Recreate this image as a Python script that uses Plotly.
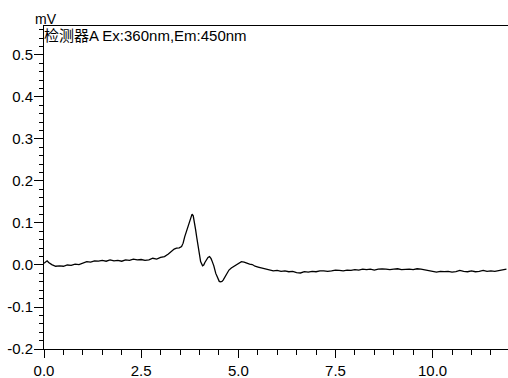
import plotly.graph_objects as go

time_min = [0.00, 0.04, 0.08, 0.12, 0.2, 0.3, 0.4, 0.5, 0.6, 0.7, 0.8, 0.9, 1.0, 1.1, 1.2, 1.3, 1.4, 1.5,
            1.6, 1.7, 1.8, 1.9, 2.0, 2.1, 2.2, 2.3, 2.4, 2.5, 2.6, 2.7, 2.8, 2.9, 3.0, 3.1, 3.2, 3.28,
            3.35, 3.41, 3.48, 3.54, 3.58, 3.62, 3.67, 3.71, 3.76, 3.81, 3.84, 3.87, 3.90, 3.93, 3.96,
            3.99, 4.03, 4.08, 4.11, 4.14, 4.18, 4.22, 4.26, 4.30, 4.33, 4.37, 4.42, 4.47, 4.51, 4.54,
            4.58, 4.61, 4.66, 4.71, 4.76, 4.82, 4.88, 4.95, 5.02, 5.08, 5.15, 5.22, 5.29, 5.36, 5.43,
            5.51, 5.6, 5.7, 5.8, 5.9, 6.0, 6.1, 6.2, 6.3, 6.4, 6.5, 6.6, 6.7, 6.8, 6.9, 7.0, 7.1, 7.2,
            7.3, 7.4, 7.5, 7.6, 7.7, 7.8, 7.9, 8.0, 8.1, 8.2, 8.3, 8.4, 8.5, 8.6, 8.7, 8.8, 8.9, 9.0,
            9.1, 9.2, 9.3, 9.4, 9.5, 9.6, 9.7, 9.8, 9.9, 10.0, 10.1, 10.2, 10.3, 10.4, 10.5, 10.6,
            10.7, 10.8, 10.9, 11.0, 11.1, 11.2, 11.3, 11.4, 11.5, 11.6, 11.7, 11.8, 11.9]

signal_mv = [0.004, 0.006, 0.010, 0.006, 0.001, -0.003, -0.002, -0.003, 0.000, -0.001, 0.002, 0.001,
             0.004, 0.008, 0.007, 0.010, 0.009, 0.011, 0.009, 0.012, 0.010, 0.011, 0.009, 0.012, 0.011,
             0.014, 0.012, 0.013, 0.011, 0.012, 0.016, 0.014, 0.018, 0.020, 0.026, 0.032, 0.038, 0.040,
             0.041, 0.044, 0.052, 0.067, 0.082, 0.095, 0.112, 0.121, 0.117, 0.104, 0.085, 0.066, 0.045,
             0.028, 0.008, -0.002, 0.000, 0.006, 0.013, 0.018, 0.020, 0.015, 0.008, -0.002, -0.020,
             -0.032, -0.039, -0.040, -0.039, -0.036, -0.028, -0.020, -0.012, -0.007, -0.004, 0.000,
             0.005, 0.008, 0.007, 0.004, 0.002, 0.001, -0.003, -0.005, -0.007, -0.010, -0.012, -0.014,
             -0.013, -0.015, -0.014, -0.016, -0.015, -0.018, -0.019, -0.016, -0.017, -0.015, -0.016,
             -0.014, -0.014, -0.015, -0.014, -0.012, -0.013, -0.014, -0.012, -0.013, -0.011, -0.012,
             -0.010, -0.011, -0.010, -0.012, -0.010, -0.009, -0.010, -0.011, -0.010, -0.009, -0.011,
             -0.010, -0.010, -0.011, -0.009, -0.010, -0.012, -0.014, -0.015, -0.017, -0.015, -0.016,
             -0.015, -0.017, -0.016, -0.013, -0.015, -0.016, -0.014, -0.016, -0.015, -0.013, -0.015,
             -0.014, -0.015, -0.013, -0.012, -0.010]

x_tick_vals = [0.0, 2.5, 5.0, 7.5, 10.0]
x_tick_text = ["0.0", "2.5", "5.0", "7.5", "10.0"]
y_tick_vals = [-0.2, -0.1, 0.0, 0.1, 0.2, 0.3, 0.4, 0.5]
y_tick_text = ["-0.2", "-0.1", "0.0", "0.1", "0.2", "0.3", "0.4", "0.5"]

FONT = "Liberation Sans, Arial, Noto Sans CJK SC, sans-serif"

fig = go.Figure()
fig.add_trace(go.Scatter(x=time_min, y=signal_mv, mode="lines",
                         line=dict(color="black", width=1.3), showlegend=False))

fig.update_layout(
    width=508, height=378,
    margin=dict(l=44, r=0, t=26, b=29),
    paper_bgcolor="white", plot_bgcolor="white",
    font=dict(family=FONT, size=15, color="black"),
    xaxis=dict(range=[0, 11.94], showgrid=False, zeroline=False,
               showline=True, linecolor="black", linewidth=1, mirror=True,
               ticks="outside", ticklen=8, tickcolor="black", tickwidth=1,
               tickvals=x_tick_vals, ticktext=x_tick_text,
               minor=dict(dtick=0.5, ticks="outside", ticklen=5, tickcolor="black", showgrid=False)),
    yaxis=dict(range=[-0.2, 0.569], showgrid=False, zeroline=False,
               showline=True, linecolor="black", linewidth=1,
               ticks="outside", ticklen=9, tickcolor="black", tickwidth=1,
               tickvals=y_tick_vals, ticktext=y_tick_text, ticklabelstandoff=-2,
               minor=dict(dtick=0.02, ticks="outside", ticklen=4, tickcolor="black", showgrid=False)),
    annotations=[
        dict(text="mV", xref="paper", yref="paper", x=0, y=1, xanchor="center", yanchor="bottom",
             showarrow=False, font=dict(size=14), xshift=2, yshift=-3),
        dict(text="检测器A Ex:360nm,Em:450nm", xref="paper", yref="paper", x=0, y=1,
             xanchor="left", yanchor="top", showarrow=False, font=dict(size=15), xshift=-2, yshift=1),
    ],
)

fig.write_html("out.html")
